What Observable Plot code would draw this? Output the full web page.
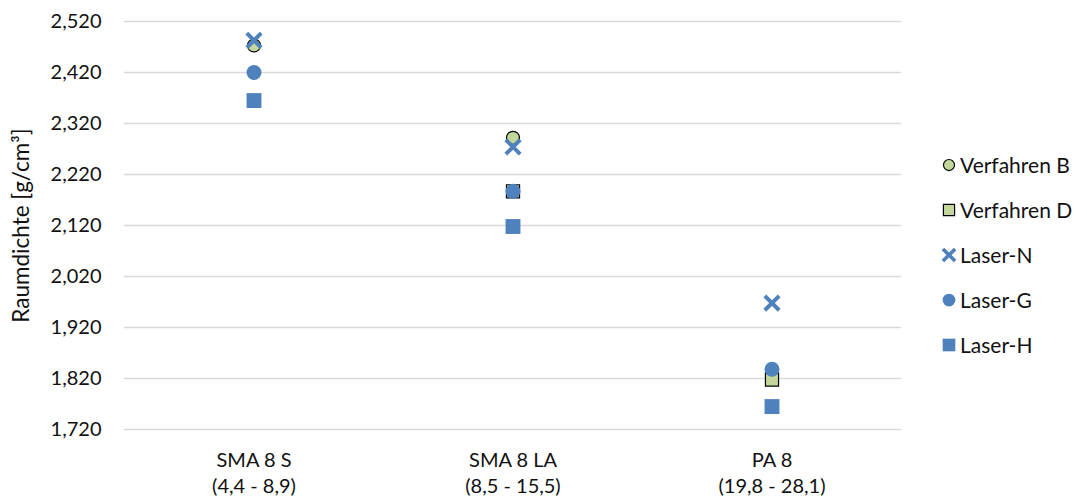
<!DOCTYPE html>
<html>
<head>
<meta charset="utf-8">
<script src="https://cdn.jsdelivr.net/npm/d3@7"></script>
<script src="https://cdn.jsdelivr.net/npm/@observablehq/plot@0.6"></script>
<style>
  body { margin: 0; background: #fff; font-family: Lato, "Open Sans", sans-serif; }
  #wrap { position: relative; width: 1087px; height: 501px; }
  #legend { position: absolute; left: 941px; top: 142px; }
  .item { display: flex; align-items: center; height: 45px; font-size: 21px; color: #111; }
  .item svg { margin-right: 3px; }
  [aria-label="y-axis label"] text, text[aria-label="y-axis label"] { font-size: 22.5px; }
</style>
</head>
<body>
<div id="wrap"><div id="legend"></div></div>
<script>
// Raumdichte je Mischgut und Verfahren [g/cm³]
const categories = ["SMA 8 S", "SMA 8 LA", "PA 8"];
const ranges = ["(4,4 - 8,9)", "(8,5 - 15,5)", "(19,8 - 28,1)"];
const verfahrenB = [2.473, 2.292, null];
const verfahrenD = [null, 2.187, 1.818];
const laserN = [2.483, 2.274, 1.968];
const laserG = [2.420, 2.187, 1.838];
const laserH = [2.365, 2.118, 1.765];
const yTicks = [1.72, 1.82, 1.92, 2.02, 2.12, 2.22, 2.32, 2.42, 2.52];

const blue = "#4f81bd";
const green = "#c4d79b";

const series = [
  {name: "Verfahren B", values: verfahrenB, symbol: "circle", fill: green, stroke: "#000", r: 6.5, sw: 1.2},
  {name: "Verfahren D", values: verfahrenD, symbol: "square", fill: green, stroke: "#000", r: 7.4, sw: 1.2},
  {name: "Laser-N", values: laserN, symbol: "times", fill: "none", stroke: blue, r: 6.6, sw: 4},
  {name: "Laser-G", values: laserG, symbol: "circle", fill: blue, stroke: "none", r: 7.5, sw: 0},
  {name: "Laser-H", values: laserH, symbol: "square", fill: blue, stroke: "none", r: 8.4, sw: 0}
];

const rows = s => categories.map((c, i) => ({cat: c, value: s.values[i]})).filter(d => d.value != null);
const de = d3.formatLocale({decimal: ",", thousands: ".", grouping: [3], currency: ["", " €"]});
const fmt = de.format(".3f");
const rangeOf = Object.fromEntries(categories.map((c, i) => [c, ranges[i]]));

const chart = Plot.plot({
  width: 1087,
  height: 501,
  marginLeft: 124,
  marginRight: 186,
  marginTop: 21,
  marginBottom: 72,
  style: {fontFamily: "Lato, 'Open Sans', sans-serif", fontSize: "20px", color: "#111", background: "#fff"},
  x: {type: "band", domain: categories, padding: 0},
  y: {domain: [1.72, 2.52]},
  marks: [
    Plot.gridY(yTicks, {stroke: "#d9d9d9", strokeOpacity: 1, strokeWidth: 1.3}),
    Plot.axisY({ticks: yTicks, tickSize: 0, tickPadding: 23, tickFormat: fmt, fontSize: 20,
      label: "Raumdichte [g/cm³]", labelAnchor: "center", labelArrow: "none", labelOffset: 111}),
    Plot.axisX({tickSize: 0, tickPadding: 19, fontSize: 20, lineHeight: 1.3,
      tickFormat: c => c + "\n" + rangeOf[c], label: null}),
    ...series.map(s => Plot.dot(rows(s), {
      x: "cat", y: "value", symbol: () => s.symbol, r: s.r,
      fill: s.fill, stroke: s.stroke, strokeWidth: s.sw
    }))
  ]
});
document.getElementById("wrap").prepend(chart);

// legend
const legend = document.getElementById("legend");
const symPath = (sym, size) => d3.symbol(
  {circle: d3.symbolCircle, square: d3.symbolSquare, times: d3.symbolTimes}[sym], size)();
for (const s of series) {
  const scale = 0.85;
  const size = Math.PI * (s.r * scale) ** 2;
  const item = document.createElement("div");
  item.className = "item";
  item.innerHTML = `<svg width="16" height="16" viewBox="-8 -8 16 16"><path d="${symPath(s.symbol, size)}"
    fill="${s.fill}" stroke="${s.stroke}" stroke-width="${s.symbol === "times" ? 3.6 : s.sw}"/></svg><span>${s.name}</span>`;
  legend.appendChild(item);
}
</script>
</body>
</html>
